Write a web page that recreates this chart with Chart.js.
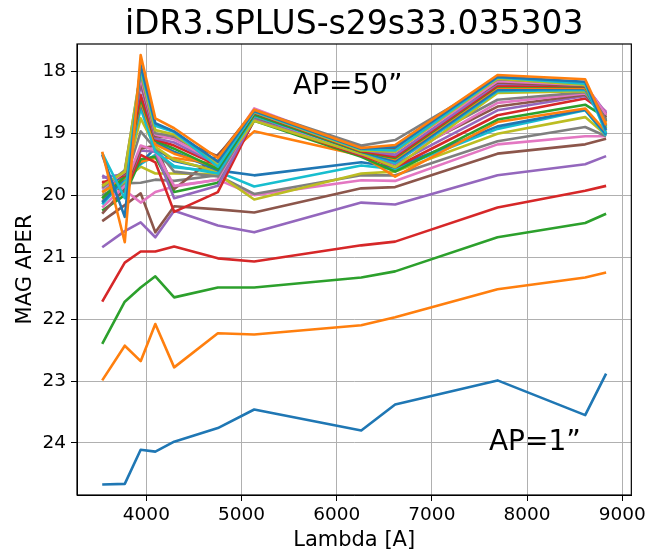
<!DOCTYPE html>
<html>
<head>
<meta charset="utf-8">
<script src="https://cdn.jsdelivr.net/npm/chart.js@4.4.1/dist/chart.umd.min.js"></script>
<style>
  html, body { margin: 0; padding: 0; background: #fff; }
</style>
</head>
<body>
<canvas id="magChart" width="649" height="555"></canvas>
<script>
// Filter central wavelengths (S-PLUS 12 bands)
const lambdas = [3536, 3773, 3940, 4094, 4292, 4751, 5133, 6258, 6614, 7690, 8611, 8831];
const xTicks = [4000, 5000, 6000, 7000, 8000, 9000];
const yTicks = [18, 19, 20, 21, 22, 23, 24];

// MAG_APER per aperture, smallest (AP=1") to largest (AP=50")
const mag01 = [24.67, 24.66, 24.11, 24.14, 23.98, 23.76, 23.46, 23.80, 23.38, 22.99, 23.55, 22.88];
const mag02 = [22.99, 22.43, 22.68, 22.08, 22.78, 22.23, 22.25, 22.10, 21.97, 21.52, 21.33, 21.25];
const mag03 = [22.40, 21.72, 21.49, 21.31, 21.65, 21.49, 21.49, 21.33, 21.23, 20.68, 20.45, 20.30];
const mag04 = [21.72, 21.09, 20.91, 20.91, 20.83, 21.02, 21.07, 20.81, 20.75, 20.20, 19.93, 19.85];
const mag05 = [20.84, 20.58, 20.44, 20.68, 20.25, 20.49, 20.60, 20.12, 20.15, 19.68, 19.50, 19.37];
const mag06 = [20.42, 20.16, 19.97, 20.60, 20.18, 20.23, 20.28, 19.89, 19.87, 19.33, 19.18, 19.09];
const mag07 = [20.05, 19.92, 20.12, 19.95, 19.86, 19.75, 20.00, 19.76, 19.77, 19.18, 19.05, 19.05];
const mag08 = [20.00, 19.81, 19.80, 19.75, 19.77, 19.68, 19.98, 19.68, 19.68, 19.13, 18.90, 19.05];
const mag09 = [19.95, 19.75, 19.54, 19.65, 19.65, 19.66, 20.07, 19.65, 19.62, 19.01, 18.74, 19.03];
const mag10 = [19.90, 19.72, 19.50, 19.35, 19.55, 19.62, 19.86, 19.52, 19.58, 18.93, 18.63, 19.04];
const mag11 = [19.85, 19.70, 19.48, 19.24, 19.45, 19.60, 19.68, 19.47, 19.55, 18.89, 18.62, 19.02];
const mag12 = [19.80, 19.68, 19.46, 19.40, 19.40, 19.50, 18.97, 19.36, 19.70, 18.82, 18.60, 18.98];
const mag13 = [20.25, 20.00, 19.42, 19.38, 19.95, 19.80, 18.80, 19.38, 19.62, 18.78, 18.54, 18.75];
const mag14 = [19.78, 19.95, 19.35, 19.47, 20.27, 19.95, 18.78, 19.36, 19.55, 18.71, 18.44, 18.68];
const mag15 = [19.68, 19.90, 19.28, 19.30, 20.05, 19.85, 18.76, 19.34, 19.50, 18.63, 18.40, 18.66];
const mag16 = [20.30, 19.90, 19.25, 19.20, 19.90, 19.35, 18.74, 19.28, 19.40, 18.57, 18.38, 18.72];
const mag17 = [20.20, 19.85, 19.20, 19.28, 19.85, 19.75, 18.72, 19.32, 19.45, 18.51, 18.36, 18.65];
const mag18 = [20.10, 19.80, 18.97, 19.25, 19.62, 19.70, 18.74, 19.22, 19.35, 18.46, 18.34, 18.78];
const mag19 = [20.05, 19.78, 18.76, 19.22, 19.43, 19.62, 18.80, 19.33, 19.55, 18.35, 18.32, 18.85];
const mag20 = [20.15, 19.75, 18.60, 19.30, 19.53, 19.65, 18.72, 19.30, 19.48, 18.32, 18.30, 18.90];
const mag21 = [20.12, 19.72, 18.52, 19.15, 19.30, 19.60, 18.70, 19.30, 19.45, 18.30, 18.28, 18.88];
const mag22 = [19.95, 19.72, 18.48, 19.18, 19.33, 19.55, 18.68, 19.28, 19.42, 18.26, 18.27, 18.82];
const mag23 = [20.05, 19.70, 18.44, 19.12, 19.25, 19.58, 18.70, 19.30, 19.40, 18.24, 18.25, 18.80];
const mag24 = [19.80, 19.68, 18.38, 19.10, 19.20, 19.52, 18.67, 19.29, 19.38, 18.23, 18.24, 18.70];
const mag25 = [19.72, 19.66, 18.22, 19.08, 19.15, 19.50, 18.66, 19.27, 19.35, 18.20, 18.23, 18.68];
const mag26 = [19.85, 19.65, 18.15, 19.05, 19.08, 19.37, 18.64, 19.24, 19.25, 18.18, 18.24, 18.75];
const mag27 = [19.90, 19.62, 18.10, 19.02, 19.10, 19.48, 18.60, 19.25, 19.30, 18.16, 18.22, 18.70];
const mag28 = [19.88, 19.60, 18.03, 19.00, 19.05, 19.45, 18.63, 19.20, 19.11, 18.13, 18.20, 18.80];
const mag29 = [19.85, 19.62, 18.00, 18.95, 19.02, 19.50, 18.66, 19.28, 19.30, 18.12, 18.22, 18.92];
const mag30 = [19.32, 20.05, 17.95, 18.88, 18.98, 19.54, 18.65, 19.26, 19.28, 18.10, 18.20, 19.00];
const mag31 = [19.35, 20.35, 17.90, 18.84, 18.97, 19.46, 18.64, 19.25, 19.22, 18.09, 18.17, 18.95];
const mag32 = [19.30, 20.76, 17.74, 18.76, 18.92, 19.40, 18.62, 19.24, 19.19, 18.06, 18.13, 18.87];

const magAper = [mag01, mag02, mag03, mag04, mag05, mag06, mag07, mag08, mag09, mag10,
                 mag11, mag12, mag13, mag14, mag15, mag16, mag17, mag18, mag19, mag20,
                 mag21, mag22, mag23, mag24, mag25, mag26, mag27, mag28, mag29, mag30,
                 mag31, mag32];

// matplotlib default colour cycle
const tab10 = ['#1f77b4', '#ff7f0e', '#2ca02c', '#d62728', '#9467bd',
               '#8c564b', '#e377c2', '#7f7f7f', '#bcbd22', '#17becf'];

const FONT = '"DejaVu Sans", "Liberation Sans", sans-serif';
const TITLE = 'iDR3.SPLUS-s29s33.035303';

// title over the axes, frame on all four sides, the two aperture notes
const framePlugin = {
  id: 'frameAndNotes',
  afterDatasetsDraw(chart) {
    const {ctx, chartArea: a, scales: {x, y}} = chart;
    ctx.save();
    ctx.strokeStyle = '#000';
    ctx.lineWidth = 1.2;
    ctx.strokeRect(a.left, a.top, a.right - a.left, a.bottom - a.top);

    ctx.fillStyle = '#000';
    ctx.textBaseline = 'alphabetic';
    ctx.textAlign = 'center';
    ctx.font = '33px ' + FONT;
    ctx.fillText(TITLE, (a.left + a.right) / 2, 34);

    ctx.textAlign = 'left';
    ctx.font = '28px ' + FONT;
    ctx.fillText('AP=50\u201d', x.getPixelForValue(5540), y.getPixelForValue(18.36));
    ctx.fillText('AP=1\u201d', x.getPixelForValue(7600), y.getPixelForValue(24.12));
    ctx.restore();
  }
};

const datasets = magAper.map((mags, i) => ({
  label: 'AP' + (i + 1),
  data: lambdas.map((l, j) => ({x: l, y: mags[j]})),
  borderColor: tab10[i % 10],
  backgroundColor: tab10[i % 10],
  borderWidth: 2.6,
  borderJoinStyle: 'round',
  pointRadius: 0,
  tension: 0,
  fill: false,
  order: magAper.length - 1 - i
}));

new Chart(document.getElementById('magChart').getContext('2d'), {
  type: 'line',
  data: { datasets: datasets },
  options: {
    responsive: false,
    animation: false,
    layout: { padding: { left: 0, right: 16, top: 44, bottom: 0 } },
    plugins: {
      legend: { display: false },
      tooltip: { enabled: false },
      title: { display: false }
    },
    scales: {
      x: {
        type: 'linear',
        min: 3271,
        max: 9096,
        afterBuildTicks: s => { s.ticks = xTicks.map(v => ({value: v})); },
        afterFit: s => { s.height = 60; },
        ticks: {
          color: '#000',
          font: { family: FONT, size: 18.5 },
          padding: 3,
          maxRotation: 0,
          callback: v => String(v)
        },
        grid: { color: '#b0b0b0', lineWidth: 1, tickLength: 6, tickColor: '#000' },
        border: { color: '#000', width: 1 },
        title: {
          display: true,
          text: 'Lambda [A]',
          color: '#000',
          font: { family: FONT, size: 21 },
          padding: { top: 0, bottom: 2 }
        }
      },
      y: {
        type: 'linear',
        reverse: true,
        min: 17.56,
        max: 24.84,
        afterBuildTicks: s => { s.ticks = yTicks.map(v => ({value: v})); },
        afterFit: s => { s.width = 77; },
        ticks: {
          color: '#000',
          font: { family: FONT, size: 18.5 },
          padding: 5,
          callback: v => String(v)
        },
        grid: { color: '#b0b0b0', lineWidth: 1, tickLength: 6, tickColor: '#000' },
        border: { color: '#000', width: 1 },
        title: {
          display: true,
          text: 'MAG APER',
          color: '#000',
          font: { family: FONT, size: 21 },
          padding: { top: 13, bottom: 0 }
        }
      }
    }
  },
  plugins: [framePlugin]
});
</script>
</body>
</html>
